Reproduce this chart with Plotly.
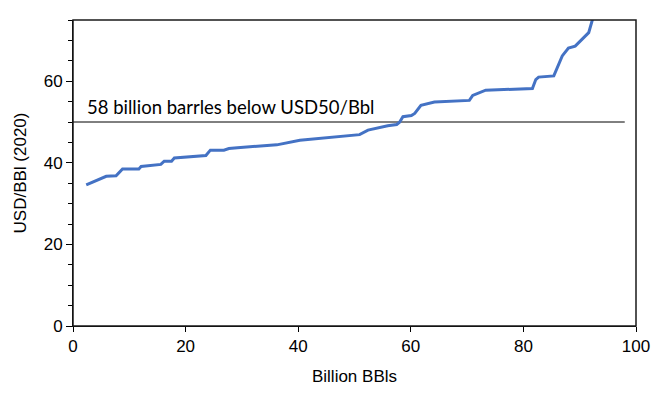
import plotly.graph_objects as go

# Cumulative supply (billion barrels) vs breakeven price (USD/Bbl, 2020)
volume = [2.35, 5.9, 7.65, 8.8, 11.7, 12.1, 15.6, 16.2, 17.5, 18.0, 23.6, 24.4, 26.8,
          27.7, 29.2, 36.2, 40.3, 50.9, 52.4, 55.9, 57.5, 58.0, 58.6, 60.1, 60.7,
          61.8, 64.2, 70.4, 71.0, 73.3, 81.6, 82.2, 82.7, 85.4, 86.9, 88.0, 89.2,
          91.6, 92.2, 93.0]
price = [34.6, 36.7, 36.8, 38.5, 38.5, 39.1, 39.6, 40.4, 40.4, 41.2, 41.8, 43.1, 43.1,
         43.5, 43.7, 44.4, 45.5, 46.9, 48.0, 49.1, 49.4, 49.95, 51.3, 51.6, 52.1,
         54.1, 54.9, 55.3, 56.5, 57.8, 58.2, 60.4, 61.0, 61.3, 66.2, 68.1, 68.6,
         71.9, 74.8, 80.0]

threshold_x = [0, 98]
threshold_y = [50, 50]
annotation_text = "58 billion barrles below USD50/Bbl"

x_ticks = [0, 20, 40, 60, 80, 100]
y_ticks = [0, 20, 40, 60]

fig = go.Figure()
fig.add_trace(go.Scatter(x=threshold_x, y=threshold_y, mode="lines",
                         line=dict(color="black", width=1), hoverinfo="skip",
                         showlegend=False))
fig.add_trace(go.Scatter(x=volume, y=price, mode="lines",
                         line=dict(color="#4472C4", width=3), showlegend=False))

fig.add_annotation(x=2.2, y=50, xref="x", yref="y", text=annotation_text,
                   showarrow=False, xanchor="left", yanchor="bottom", yshift=2,
                   font=dict(family="Lato", size=18.5, color="black"))

axis_font = dict(family="Arial", size=17, color="black")

fig.update_layout(
    width=658, height=388,
    margin=dict(l=62, r=30, t=12, b=70),
    paper_bgcolor="white", plot_bgcolor="white",
    shapes=[dict(type="rect", xref="paper", yref="paper", x0=0, y0=0, x1=1, y1=1,
                 line=dict(color="#1a1a1a", width=1.5), layer="above")],
    xaxis=dict(range=[0, 100], tickvals=x_ticks, showgrid=False, zeroline=False,
               showline=True, linecolor="black", linewidth=1,
               ticks="outside", ticklen=5, tickcolor="black", tickfont=axis_font,
               title=dict(text="Billion BBls", font=axis_font, standoff=14)),
    yaxis=dict(range=[0, 75], tickvals=y_ticks, showgrid=False, zeroline=False,
               showline=True, linecolor="black", linewidth=1,
               ticks="outside", ticklen=6, tickcolor="black", tickfont=axis_font,
               minor=dict(dtick=5, tick0=0, ticks="outside", ticklen=4,
                          tickcolor="black", showgrid=False),
               title=dict(text="USD/BBl (2020)", font=axis_font, standoff=12)),
)

fig.write_html("out.html")
